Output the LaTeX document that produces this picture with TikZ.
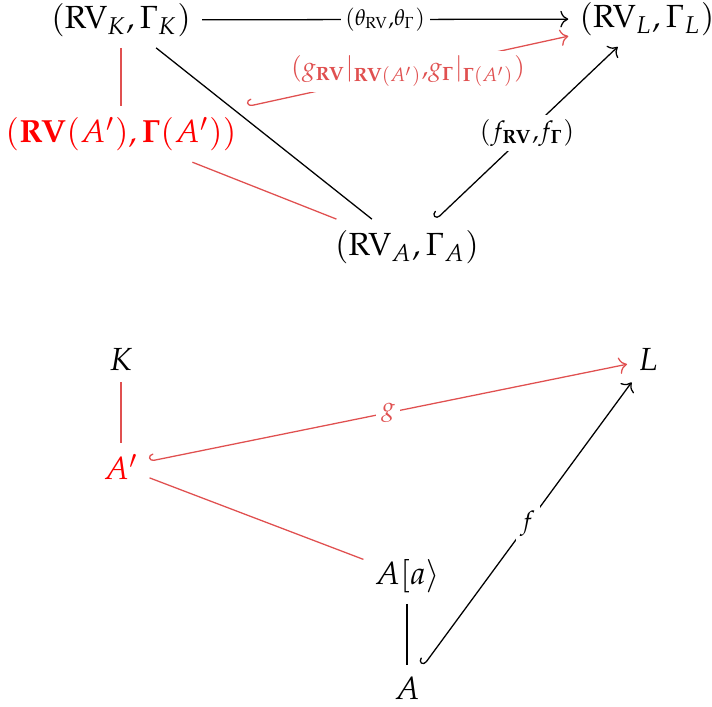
\documentclass[tikz,border=0pt]{standalone}
\usepackage{mathpazo}
\usetikzlibrary{cd}
\definecolor{lred}{RGB}{224,80,80}
\tikzset{
  obj/.style={inner sep=3.3pt},
  lab/.style={fill=white, inner sep=1.5pt, font=\scriptsize},
  labm/.style={fill=white, inner sep=1.5pt, font=\fontsize{8}{9.6}\selectfont},
  hookar/.style={{tikzcd right hook}-{tikzcd to}},
  ar/.style={-{tikzcd to}},
  redline/.style={draw=lred},
}
\begin{document}
\begin{tikzpicture}[x=0.3125pt,y=-0.3125pt]
\useasboundingbox (0,0) rectangle (712,707);
% top diagram
\node[obj] (K) at (121,20) {$(\mathrm{RV}_K,\Gamma_K)$};
\node[obj] (L) at (647,19) {$(\mathrm{RV}_L,\Gamma_L)$};
\node[obj,text=red] (Ap) at (121,134) {$(\mathbf{RV}(A'),\mathbf{\Gamma}(A'))$};
\node[obj] (A) at (407,247) {$(\mathrm{RV}_A,\Gamma_A)$};
\draw[ar] (K) -- node[lab]{$(\theta_{\mathrm{RV}}{,}\theta_{\Gamma})$} (L);
\draw[hookar,redline] (Ap) -- node[labm,text=lred]{$(g_{\mathbf{RV}}|_{\mathbf{RV}(A')}{,}g_{\mathbf{\Gamma}}|_{\mathbf{\Gamma}(A')})$} (L);
\draw (K) -- (A);
\draw[redline] (K) -- (Ap);
\draw[redline] (Ap) -- (A);
\draw[hookar] (A) -- node[labm]{$(f_{\mathbf{RV}}{,}f_{\mathbf{\Gamma}})$} (L);
% bottom diagram
\node[obj] (k) at (121,360) {$K$};
\node[obj] (l) at (648,360) {$L$};
\node[obj,text=red] (ap) at (121,467) {$A'$};
\node[obj] (aa) at (407,576) {$A[a\rangle$};
\node[obj] (a) at (407,688) {$A$};
\draw[redline] (k) -- (ap);
\draw[hookar,redline] (ap) -- node[labm,text=lred]{$g$} (l);
\draw[redline] (ap) -- (aa);
\draw (aa) -- (a);
\draw[hookar] (a) -- node[labm]{$f$} (l);
\end{tikzpicture}
\end{document}
